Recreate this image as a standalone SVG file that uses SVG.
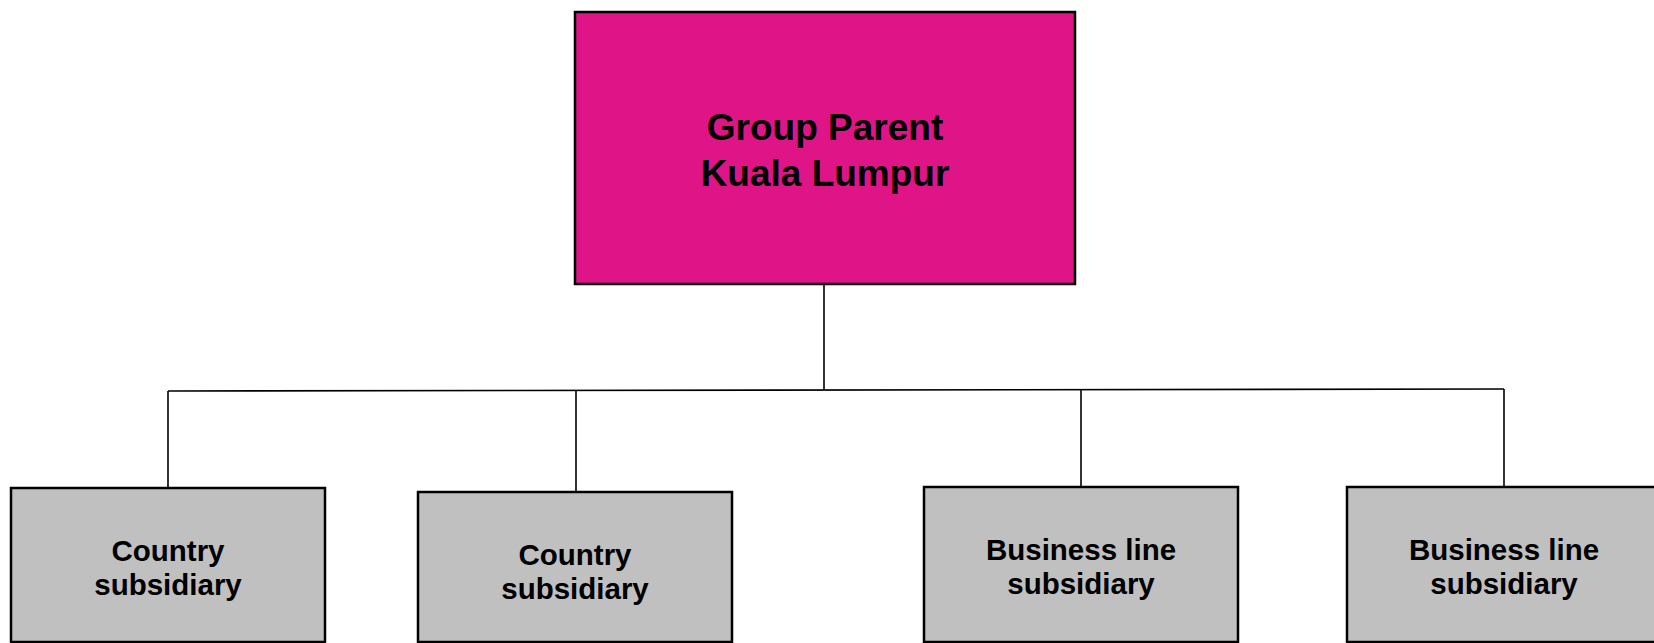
<svg xmlns="http://www.w3.org/2000/svg" width="1654" height="643" viewBox="0 0 1654 643">
<style>
.box{stroke:#000;stroke-width:2.5}
.parent{fill:#DF1587}
.sub{fill:#C0C0C0}
.t{font-family:"Liberation Sans",Arial,sans-serif;font-weight:bold;text-anchor:middle;fill:#000}
.tp{font-size:37px}
.ts{font-size:29.5px}
.conn{stroke:#000;stroke-width:1.6;fill:none}
</style>
<rect width="1654" height="643" fill="#fff"/>
<g id="connectors">
<line class="conn" x1="824" y1="284" x2="824" y2="390"/>
<line class="conn" x1="168" y1="391" x2="1504" y2="389"/>
<line class="conn" x1="168" y1="391" x2="168" y2="488"/>
<line class="conn" x1="576" y1="391" x2="576" y2="492"/>
<line class="conn" x1="1081" y1="390" x2="1081" y2="487"/>
<line class="conn" x1="1504" y1="389" x2="1504" y2="487"/>
</g>
<g id="parent">
<rect class="box parent" x="575" y="12" width="500" height="272"/>
<text class="t tp" x="825" y="140">Group Parent</text>
<text class="t tp" x="825" y="186">Kuala Lumpur</text>
</g>
<g id="country1">
<rect class="box sub" x="11" y="488" width="314" height="154"/>
<text class="t ts" x="168" y="561">Country</text>
<text class="t ts" x="168" y="595">subsidiary</text>
</g>
<g id="country2">
<rect class="box sub" x="418" y="492" width="314" height="150"/>
<text class="t ts" x="575" y="565">Country</text>
<text class="t ts" x="575" y="599">subsidiary</text>
</g>
<g id="business1">
<rect class="box sub" x="924" y="487" width="314" height="155"/>
<text class="t ts" x="1081" y="560">Business line</text>
<text class="t ts" x="1081" y="594">subsidiary</text>
</g>
<g id="business2">
<rect class="box sub" x="1347" y="487" width="314" height="155"/>
<text class="t ts" x="1504" y="560">Business line</text>
<text class="t ts" x="1504" y="594">subsidiary</text>
</g>
</svg>
